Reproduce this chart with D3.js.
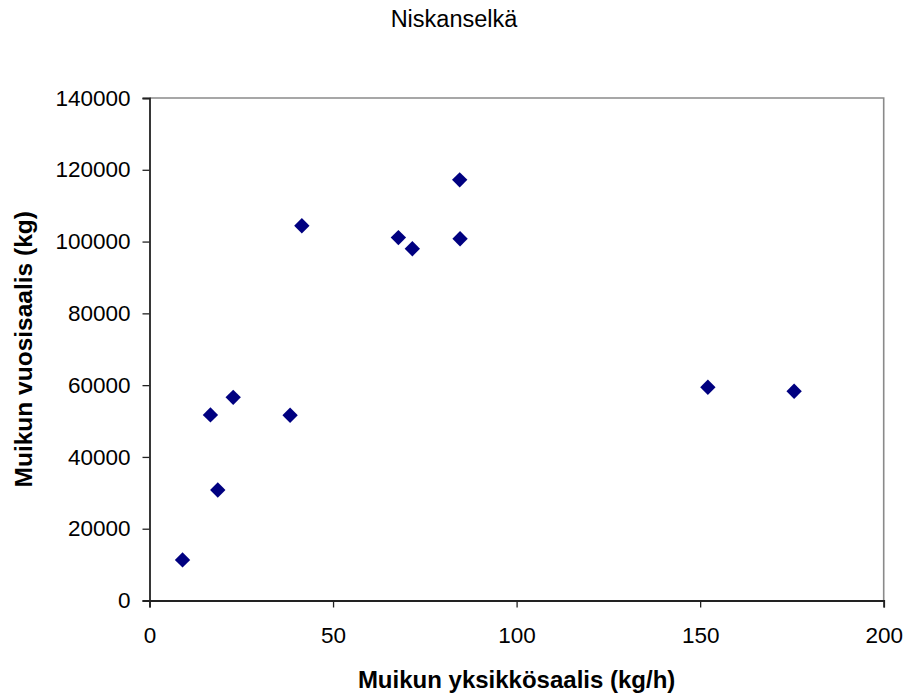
<!DOCTYPE html>
<html>
<head>
<meta charset="utf-8">
<script src="https://cdn.jsdelivr.net/npm/d3@7"></script>
<style>
  body { margin: 0; background: #fff; }
  text { font-family: "Liberation Sans", Arial, sans-serif; fill: #000; }
</style>
</head>
<body>
<div id="chart"></div>
<script>
// Data: yksikkösaalis (kg/h) vs vuosisaalis (kg)
let yksikkosaalis = [9.0, 16.6, 18.6, 22.8, 38.3, 41.5, 67.8, 71.6, 84.5, 84.6, 152.1, 175.6]
let vuosisaalis = [11300, 51700, 30800, 56600, 51600, 104400, 101100, 98000, 117200, 100800, 59400, 58300]
let xTicks = [0, 50, 100, 150, 200]
let yTicks = [0, 20000, 40000, 60000, 80000, 100000, 120000, 140000]

let width = 908, height = 697
let margin = { left: 149.5, right: 908 - 883.7, top: 98, bottom: 697 - 600.5 }

let svg = d3.select("#chart").append("svg")
    .attr("width", width)
    .attr("height", height)

let x = d3.scaleLinear().domain([0, 200]).range([margin.left, width - margin.right])
let y = d3.scaleLinear().domain([0, 140000]).range([height - margin.bottom, margin.top])

// plot area border (top & right gray)
svg.append("path")
    .attr("d", `M${x(0)},${y(140000)}H${x(200)}V${y(0)}`)
    .attr("fill", "none")
    .attr("stroke", "#8a8a8a")
    .attr("stroke-width", 1.6)

// axes
let xAxis = svg.append("g")
    .attr("transform", `translate(0,${y(0)})`)
    .call(d3.axisBottom(x).tickValues(xTicks).tickSize(7).tickPadding(18).tickFormat(d3.format("d")))
let yAxis = svg.append("g")
    .attr("transform", `translate(${x(0)},0)`)
    .call(d3.axisLeft(y).tickValues(yTicks).tickSize(7).tickPadding(12).tickFormat(d3.format("d")))

;[xAxis, yAxis].forEach(a => {
    a.select(".domain").attr("stroke", "#222").attr("stroke-width", 1.8)
    a.selectAll(".tick line").attr("stroke", "#222").attr("stroke-width", 1.3)
    a.selectAll(".tick text")
        .attr("font-size", 22.5)
        .attr("font-family", '"Liberation Sans", Arial, sans-serif')
        .attr("fill", "#000")
})
xAxis.selectAll(".tick text").attr("dy", 0).attr("y", 42)

// points
let diamond = d3.symbol().type(d3.symbolSquare).size(118)
svg.append("g")
    .selectAll("path")
    .data(yksikkosaalis.map((v, i) => [v, vuosisaalis[i]]))
    .join("path")
    .attr("d", diamond)
    .attr("transform", d => `translate(${x(d[0])},${y(d[1])}) rotate(45)`)
    .attr("fill", "#000080")

// titles
svg.append("text")
    .text("Niskanselkä")
    .attr("x", 454)
    .attr("y", 27)
    .attr("text-anchor", "middle")
    .attr("font-size", 23.5)

svg.append("text")
    .text("Muikun yksikkösaalis (kg/h)")
    .attr("x", (x(0) + x(200)) / 2)
    .attr("y", 688)
    .attr("text-anchor", "middle")
    .attr("font-size", 24)
    .attr("font-weight", "bold")

svg.append("text")
    .text("Muikun vuosisaalis (kg)")
    .attr("transform", `translate(32,${(y(0) + y(140000)) / 2}) rotate(-90)`)
    .attr("text-anchor", "middle")
    .attr("font-size", 24.5)
    .attr("font-weight", "bold")
</script>
</body>
</html>
